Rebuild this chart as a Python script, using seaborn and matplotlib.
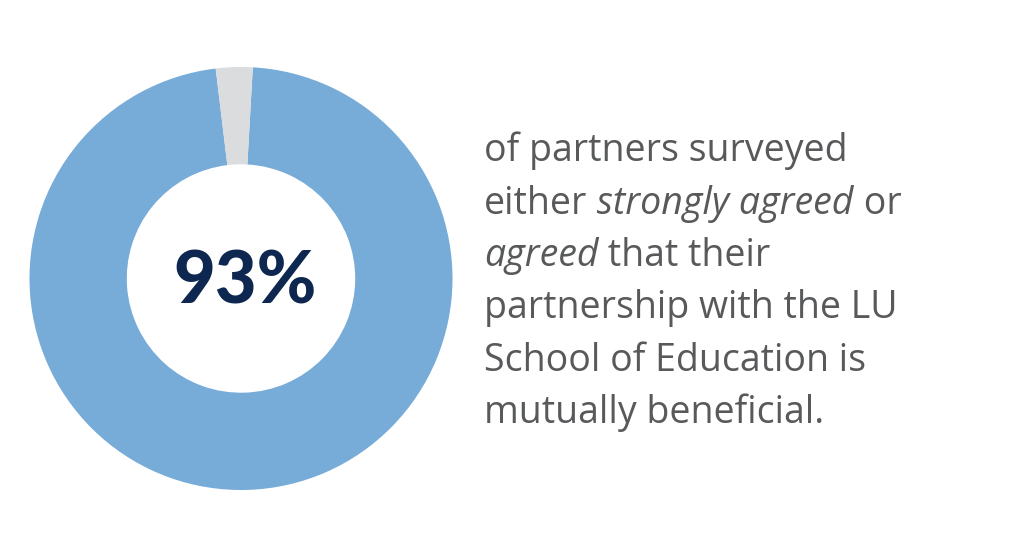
import matplotlib
matplotlib.use("Agg")
import matplotlib.pyplot as plt
import seaborn as sns

# share of partners and the headline figure
labels = ["Strongly agreed / agreed", "Other responses"]
shares = [97.2, 2.8]
headline = "93%"

# caption, one list per line: (text, italic?)
caption = [
    [("of partners surveyed", False)],
    [("either", False), ("strongly agreed", True), ("or", False)],
    [("agreed", True), ("that their", False)],
    [("partnership with the LU", False)],
    [("School of Education is", False)],
    [("mutually beneficial.", False)],
]

sns.set_theme(style="white")
plt.rcParams["font.family"] = ["Open Sans", "DejaVu Sans"]

ring_colors = ["#77abd8", "#dadcde"]
text_gray = "#58595b"
navy = "#0e2750"

fig = plt.figure(figsize=(10.24, 5.59), dpi=100)
fig.patch.set_facecolor("white")

# donut
ax = fig.add_axes([29.5 / 1024, 69 / 559, 423 / 1024, 423 / 559])
ax.pie(shares, colors=ring_colors, startangle=86.8, counterclock=False,
       radius=1, wedgeprops=dict(width=0.46, linewidth=0, edgecolor="white"))
ax.set_xlim(-1, 1)
ax.set_ylim(-1, 1)
ax.set_aspect("equal")
ax.axis("off")
ax.text(0.02, -0.02, headline, ha="center", va="center", fontsize=52,
        fontweight="black", color=navy, family=["Lato", "DejaVu Sans"])

# caption text with italic fragments
x0 = 484 / 1024
base0 = 559 - 161.5
step = 52.3
fs = 27
for i, line in enumerate(caption):
    y = (base0 - i * step) / 559
    last = None
    for frag, ital in line:
        style = "italic" if ital else "normal"
        if last is None:
            last = fig.text(x0, y, frag, ha="left", va="baseline", fontsize=fs,
                            color=text_gray, style=style)
        else:
            last = ax.annotate(" " + frag, xy=(1, 0), xycoords=last,
                               va="bottom", ha="left", fontsize=fs,
                               color=text_gray, style=style,
                               annotation_clip=False)

fig.savefig("out.png", dpi=100, facecolor="white")
